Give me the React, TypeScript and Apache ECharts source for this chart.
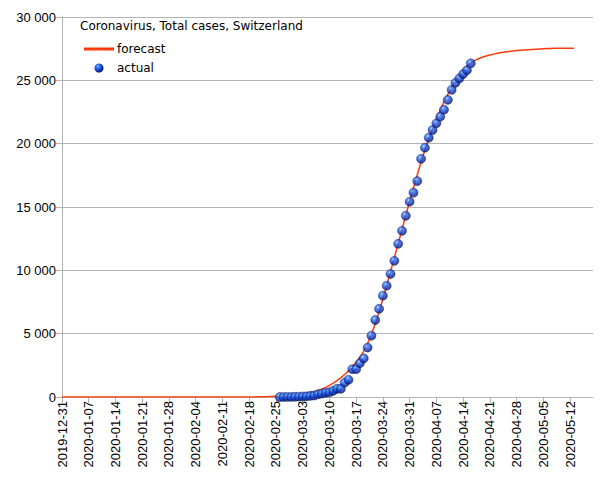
import React, { useEffect, useRef } from "react";
import * as echarts from "echarts";

const TITLE = "Coronavirus, Total cases, Switzerland";
const FORECAST_NAME = "forecast";
const ACTUAL_NAME = "actual";

// category axis: one category per day
const FIRST_DATE = "2019-12-31";
const DAY_COUNT = 140;

// forecast, one value per day starting at FIRST_DATE
const FORECAST_VALUES = [
  0, 0, 0, 0, 0, 0, 0, 0, 0, 0,
  0, 0, 0, 0, 0, 0, 0, 0, 0, 0,
  0, 0, 0, 0, 0, 0, 0, 0, 0, 0,
  0, 0, 0, 0, 0, 0, 0, 0, 0, 0,
  0, 0, 0, 0, 0, 0, 0, 0, 0, 0,
  0, 10, 15, 22, 30, 40, 55, 70, 90, 115,
  140, 165, 200, 240, 290, 350, 420, 510, 620, 760,
  920, 1100, 1300, 1530, 1780, 2060, 2380, 2740, 3150, 3620,
  4220, 4950, 5780, 6720, 7750, 8800, 9900, 11000, 12120, 13230,
  14350, 15450, 16500, 17550, 18550, 19500, 20380, 21200, 21950, 22650,
  23300, 23900, 24450, 24950, 25400, 25780, 26100, 26380, 26560, 26700,
  26820, 26920, 27000, 27070, 27130, 27190, 27240, 27280, 27320, 27350,
  27380, 27400, 27420, 27440, 27460, 27480, 27500, 27510, 27520, 27525,
  27528, 27530, 27530, 27530, 27530,
];

// actual, one value per day starting at ACTUAL_FIRST_DATE
const ACTUAL_FIRST_DATE = "2020-02-26";
const ACTUAL_VALUES = [
  1, 1, 8, 8, 18, 27, 42, 56, 90, 114,
  214, 268, 337, 374, 491, 652, 652, 1139, 1359, 2200,
  2200, 2680, 3050, 3900, 4840, 6080, 6960, 8000, 8790, 9720,
  10750, 12090, 13120, 14310, 15420, 16130, 17050, 18800, 19680, 20470,
  21080, 21610, 22130, 22680, 23460, 24250, 24800, 25150, 25500, 25800,
  26340,
];

const Y_MIN = 0;
const Y_MAX = 30000;
const Y_INTERVAL = 5000;
const LABEL_EVERY_DAYS = 7;

function buildDates(first: string, count: number): string[] {
  const [y, m, d] = first.split("-").map(Number);
  const out: string[] = [];
  for (let i = 0; i < count; i++) {
    const dt = new Date(Date.UTC(y, m - 1, d + i));
    const mm = String(dt.getUTCMonth() + 1).padStart(2, "0");
    const dd = String(dt.getUTCDate()).padStart(2, "0");
    out.push(`${dt.getUTCFullYear()}-${mm}-${dd}`);
  }
  return out;
}

function fmtThousands(v: number): string {
  return String(v).replace(/\B(?=(\d{3})+(?!\d))/g, " ");
}

const GRID_COLOR = "#b3b3b3";
const LINE_COLOR = "#ff3a0a";
const AXIS_FONT = "Liberation Sans";
const TEXT_FONT = "DejaVu Sans";

const ballGradient = () =>
  new echarts.graphic.RadialGradient(0.38, 0.32, 0.72, [
    { offset: 0, color: "#d4eaff" },
    { offset: 0.18, color: "#3f86f2" },
    { offset: 0.55, color: "#1244d6" },
    { offset: 1, color: "#020e5c" },
  ]);

export default function App() {
  const ref = useRef<HTMLDivElement>(null);

  useEffect(() => {
    if (!ref.current) return;
    const chart = echarts.init(ref.current, undefined, { renderer: "svg" });
    const dates = buildDates(FIRST_DATE, DAY_COUNT);
    const actualStart = dates.indexOf(ACTUAL_FIRST_DATE);

    chart.setOption({
      animation: false,
      backgroundColor: "#ffffff",
      grid: { left: 62, right: 12, top: 17, bottom: 83, containLabel: false },
      xAxis: {
        type: "category",
        data: dates,
        boundaryGap: false,
        axisLine: { show: true, lineStyle: { color: GRID_COLOR, width: 1 } },
        axisTick: {
          show: true,
          interval: LABEL_EVERY_DAYS - 1,
          length: 6,
          lineStyle: { color: GRID_COLOR },
        },
        axisLabel: {
          interval: LABEL_EVERY_DAYS - 1,
          rotate: 90,
          fontFamily: AXIS_FONT,
          fontSize: 13,
          color: "#000",
          margin: 4,
        },
        splitLine: { show: false },
      },
      yAxis: {
        type: "value",
        min: Y_MIN,
        max: Y_MAX,
        interval: Y_INTERVAL,
        axisLine: { show: true, lineStyle: { color: GRID_COLOR, width: 1 } },
        axisTick: { show: true, length: 6, lineStyle: { color: GRID_COLOR } },
        axisLabel: {
          formatter: (v: number) => fmtThousands(v),
          fontFamily: AXIS_FONT,
          fontSize: 13,
          color: "#000",
          margin: 6,
        },
        splitLine: { show: true, lineStyle: { color: GRID_COLOR, width: 1 } },
      },
      series: [
        {
          name: FORECAST_NAME,
          type: "line",
          data: FORECAST_VALUES,
          symbol: "none",
          lineStyle: { color: LINE_COLOR, width: 1.5 },
          z: 2,
        },
        {
          name: ACTUAL_NAME,
          type: "scatter",
          data: ACTUAL_VALUES.map((v, i) => [actualStart + i, v]),
          symbol: "circle",
          symbolSize: 9,
          itemStyle: { color: ballGradient(), borderColor: "#020c4a", borderWidth: 0.5 },
          z: 3,
        },
      ],
      graphic: [
        {
          type: "text",
          left: 80,
          top: 20,
          style: { text: TITLE, font: `12px "${TEXT_FONT}"`, fill: "#000" },
        },
        {
          type: "line",
          shape: { x1: 84, y1: 49, x2: 114, y2: 49 },
          style: { stroke: LINE_COLOR, lineWidth: 3 },
        },
        {
          type: "text",
          x: 117,
          y: 49,
          style: {
            text: FORECAST_NAME,
            font: `12px "${TEXT_FONT}"`,
            fill: "#000",
            textVerticalAlign: "middle",
          },
        },
        {
          type: "circle",
          shape: { cx: 99, cy: 68, r: 4.5 },
          style: { fill: ballGradient() },
        },
        {
          type: "text",
          x: 117,
          y: 67.5,
          style: {
            text: ACTUAL_NAME,
            font: `12px "${TEXT_FONT}"`,
            fill: "#000",
            textVerticalAlign: "middle",
          },
        },
      ],
    });

    return () => chart.dispose();
  }, []);

  return (
    <div
      ref={ref}
      style={{ position: "fixed", left: 0, top: 0, width: 605, height: 480, background: "#fff" }}
    />
  );
}
